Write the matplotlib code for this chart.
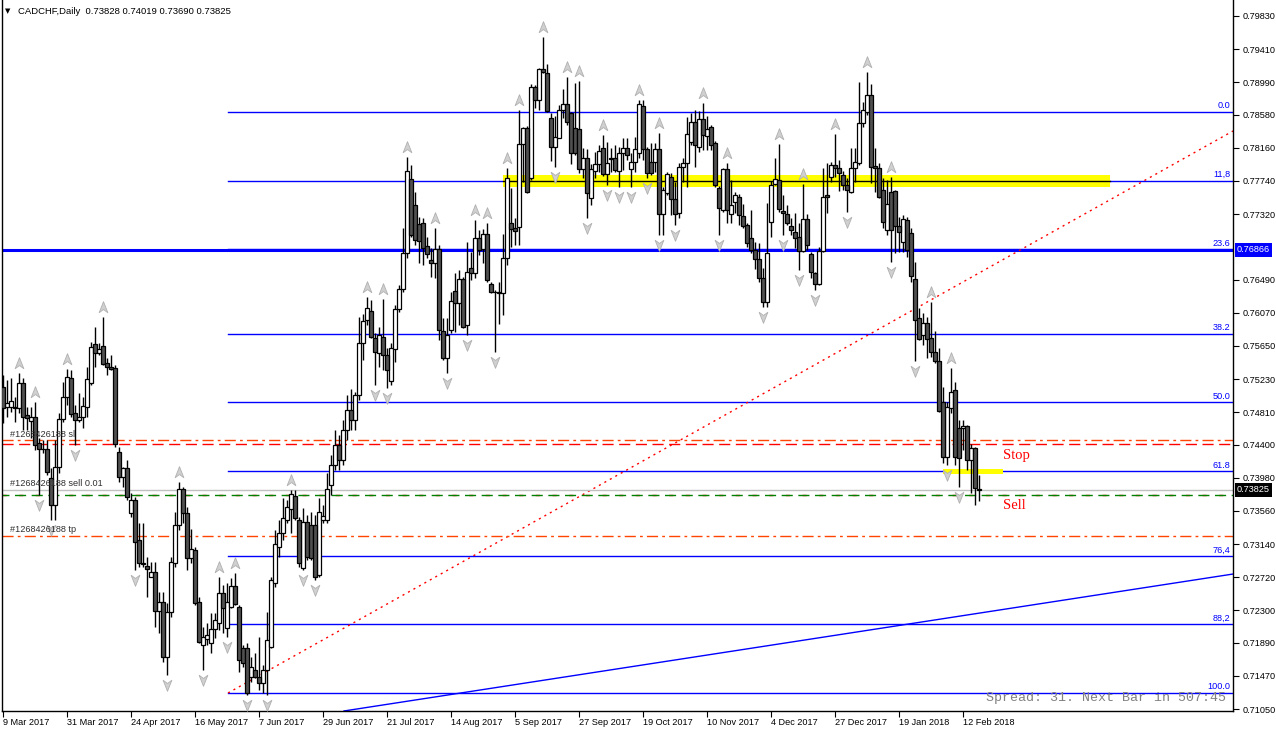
import matplotlib
matplotlib.use("Agg")
import matplotlib.pyplot as plt
from matplotlib.path import Path
from matplotlib.patches import Rectangle
from matplotlib import transforms
import numpy as np

plt.rcParams['font.family'] = ['Liberation Sans', 'DejaVu Sans']

header = "CADCHF,Daily  0.73828 0.74019 0.73690 0.73825"

# daily OHLC, 9 Mar 2017 .. 16 Feb 2018
opens = [
    .75134, .74872, .74872, .74881, .74859, .75176, .74775, .74703, .74745, .74416,
    .74345, .74340, .73973, .73635, .74120, .74720, .74999, .75240, .74796, .74712,
    .74745, .74881, .75176, .75674, .75556, .75649, .75438, .75379, .75366, .74310,
    .73994, .74099, .73529, .73698, .73191, .72896, .72862, .72727, .72782, .72296,
    .72410, .71705, .72283, .72904, .73381, .73834, .73538, .72959, .73065, .72410,
    .71862, .71933, .71883, .72059, .72136, .72516, .72072, .72347, .72609, .72339,
    .71819, .71819, .71460, .71544, .71460, .71375, .71544, .71840, .72642, .73098,
    .73276, .73445, .73580, .73749, .73445, .72832, .73424, .73381, .73381, .72748,
    .73445, .73445, .73888, .74141, .74395, .74205, .74585, .74838, .74711, .75028,
    .75683, .75979, .76097, .75755, .75556, .75759, .75535, .75206, .75611, .76118,
    .76371, .76823, .77765, .77436, .77191, .77203, .76920, .76739, .76697, .76878,
    .75839, .75501, .75852, .76350, .76190, .76498, .75915, .76633, .76570, .77013,
    .76878, .77064, .76431, .76338, .76329, .76317, .76760, .77203, .77148, .77161,
    .78204, .78407, .77773, .78931, .78766, .79154, .79112, .78534, .78175, .78289,
    .78639, .78711, .78597, .78407, .78394, .77892, .78027, .77520, .77871, .77951,
    .78154, .77824, .78027, .78027, .77871, .78099, .78162, .77892, .77985, .78090,
    .78694, .78145, .77976, .77976, .78141, .77317, .77583, .77795, .77512, .77330,
    .77921, .77963, .78230, .78483, .78175, .78525, .78314, .78428, .78217, .77647,
    .77372, .77887, .77317, .77469, .77541, .77296, .77182, .77022, .76865, .76751,
    .76515, .76211, .77224, .77697, .77752, .77360, .77317, .77174, .77098, .77034,
    .76853, .77258, .76815, .76570, .76431, .76853, .77562, .77795, .77942, .77900,
    .77816, .77689, .77604, .77900, .77963, .78470, .78618, .78829, .77930, .77900,
    .77626, .77119, .77604, .77613, .77174, .76971, .77246, .77077, .76498, .76000,
    .75789, .75936, .75746, .75577, .75459, .74935, .74247, .74868, .75092, .74615,
    .74606, .74640, .74205, .74353, .73828,
]
highs = [
    .75282, .75218, .75240, .75007, .75303, .75240, .74881, .74872, .74944, .74479,
    .74458, .74458, .74099, .74458, .74796, .75197, .75354, .75345, .74902, .75049,
    .75007, .75387, .75704, .75894, .75683, .76021, .75493, .75535, .75408, .74374,
    .74120, .74205, .73783, .73740, .73402, .73402, .72980, .72917, .72917, .72537,
    .72537, .72389, .72980, .73550, .73931, .73867, .73614, .73326, .73107, .72474,
    .72093, .72136, .72263, .72263, .72727, .72621, .72642, .72706, .72769, .72368,
    .71862, .71883, .71714, .71756, .71967, .71608, .72283, .72727, .73318, .73445,
    .73723, .73698, .73825, .73825, .73487, .73593, .73508, .73550, .73508, .73723,
    .73635, .74036, .74268, .74585, .74521, .74711, .75028, .75104, .75066, .76021,
    .76050, .76274, .76232, .75810, .75894, .76245, .75620, .75683, .76169, .76422,
    .77148, .78048, .77942, .77605, .77288, .77275, .77034, .76887, .77140, .76929,
    .76000, .76000, .76338, .76570, .76612, .76528, .76971, .76844, .77246, .77119,
    .77132, .77203, .76464, .76359, .76464, .77064, .77909, .77655, .77267, .78639,
    .78428, .78441, .78964, .78956, .79167, .79568, .79218, .78597, .78567, .78703,
    .78905, .79061, .78610, .78977, .79007, .78162, .78145, .77951, .78111, .78196,
    .78322, .78230, .78154, .78196, .78175, .78280, .78289, .78090, .78301, .78766,
    .78766, .78175, .78217, .78217, .78344, .77668, .77858, .77837, .77731, .77963,
    .78027, .78555, .78597, .78639, .78626, .78724, .78563, .78449, .78246, .77680,
    .77900, .77963, .77752, .77596, .77571, .77444, .77203, .77372, .76971, .76950,
    .76633, .77457, .77740, .78035, .78204, .77562, .77435, .77267, .77330, .77203,
    .77697, .77317, .76844, .76591, .76908, .77900, .77963, .77985, .78331, .78006,
    .77866, .77773, .78153, .78153, .78998, .78745, .79116, .78964, .78153, .77963,
    .77782, .77752, .77795, .77626, .77288, .77309, .77288, .77148, .76718, .76126,
    .76063, .76021, .76211, .75839, .75620, .75134, .74944, .75366, .75197, .74712,
    .74712, .74648, .74403, .74374, .74019,
]
lows = [
    .74669, .74754, .74817, .74691, .74796, .74585, .74585, .74479, .74332, .73761,
    .74289, .74015, .73445, .73445, .74036, .74691, .74902, .74754, .74395, .74691,
    .74606, .74754, .75155, .75387, .75535, .75408, .75282, .75345, .74374, .73931,
    .73867, .73698, .73487, .72811, .72853, .72853, .72474, .72720, .72093, .72009,
    .71650, .71481, .72220, .72853, .73318, .73402, .72811, .72896, .72368, .71883,
    .71544, .71862, .71756, .71946, .72051, .72009, .71967, .72326, .72368, .71523,
    .71587, .71228, .71397, .71440, .71291, .71249, .71228, .71819, .72600, .72980,
    .73191, .73402, .73276, .73445, .72853, .72811, .72938, .72938, .72685, .72727,
    .73402, .73402, .73761, .74078, .74078, .74141, .74458, .74585, .74585, .74965,
    .75472, .75915, .75746, .75155, .75387, .75345, .75113, .75155, .75451, .76084,
    .76338, .76760, .77034, .76929, .76697, .76675, .76760, .76528, .76507, .75725,
    .75472, .75303, .75810, .75831, .75915, .75873, .75789, .76485, .76507, .76802,
    .76697, .76464, .76317, .75578, .75924, .76042, .76675, .76908, .76929, .76929,
    .77731, .77583, .77752, .78660, .78639, .79112, .78618, .77993, .77921, .78280,
    .78534, .78449, .77951, .78069, .77837, .77782, .77275, .77436, .77782, .77858,
    .77807, .77689, .77858, .77858, .77668, .77879, .78006, .77668, .77858, .78027,
    .78006, .77773, .77816, .77858, .77055, .77055, .77562, .77309, .77182, .77267,
    .77731, .77668, .78196, .77921, .78111, .78132, .78132, .78132, .77668, .77055,
    .77351, .77203, .77203, .77330, .77182, .77140, .76908, .76823, .76625, .76464,
    .76148, .76148, .77034, .77689, .77351, .77055, .77182, .77055, .76887, .76612,
    .76844, .76865, .76507, .76359, .76422, .76844, .77330, .77731, .77795, .77613,
    .77626, .77351, .77583, .77731, .77942, .78428, .78576, .77710, .77604, .77520,
    .77140, .77055, .76718, .76823, .76844, .76844, .76781, .76464, .75459, .75725,
    .75662, .75493, .75514, .75430, .74809, .74163, .74142, .74796, .74142, .73867,
    .74332, .74078, .73783, .73635, .73690,
]
closes = [
    .74859, .74923, .74952, .74859, .75176, .74754, .74733, .74745, .74395, .74340,
    .74340, .74057, .73635, .74120, .74720, .74999, .75261, .74788, .74712, .74745,
    .74889, .75227, .75632, .75556, .75607, .75421, .75387, .75362, .74408, .73985,
    .74099, .73732, .73698, .73170, .72896, .72887, .72820, .72782, .72296, .72410,
    .71705, .72283, .72917, .73381, .73834, .73538, .72959, .73073, .72398, .71904,
    .71967, .71988, .72059, .72178, .72516, .72326, .72410, .72609, .72381, .71671,
    .71629, .71249, .71587, .71460, .71375, .71544, .71925, .72685, .73141, .73276,
    .73466, .73614, .73774, .73466, .72896, .73424, .72980, .72959, .72727, .73550,
    .73495, .73834, .74141, .74395, .74205, .74585, .74838, .74711, .75028, .75683,
    .75966, .76126, .75767, .75578, .75789, .75535, .75345, .75620, .76118, .76371,
    .76823, .77866, .77056, .76992, .76980, .76895, .76811, .76697, .76878, .75852,
    .75493, .75789, .76219, .76198, .76498, .75894, .76583, .76570, .77013, .76866,
    .77064, .76485, .76338, .76329, .76325, .76760, .77773, .77132, .77106, .78204,
    .78407, .77596, .78935, .78766, .79154, .79125, .78627, .78175, .78293, .78639,
    .78711, .78491, .78090, .78099, .77892, .78027, .77583, .77887, .77951, .78120,
    .77824, .77972, .78020, .77879, .78090, .78162, .78069, .77976, .78145, .78711,
    .78145, .77837, .77837, .78145, .77317, .77626, .77824, .77512, .77317, .77921,
    .77963, .78331, .78483, .78196, .78525, .78322, .78398, .78196, .77689, .77402,
    .77887, .77372, .77435, .77562, .77309, .77174, .76950, .76865, .76751, .76507,
    .76211, .76823, .77689, .77761, .77385, .77330, .77203, .77119, .77022, .76853,
    .77258, .76929, .76591, .76431, .76853, .77541, .77541, .77942, .77900, .77837,
    .77689, .77626, .77900, .77976, .78470, .78639, .78829, .77921, .77909, .77541,
    .77224, .77444, .77119, .77174, .77098, .77258, .76865, .76540, .75979, .75738,
    .75936, .75738, .75577, .75459, .74826, .74247, .74881, .75062, .74247, .74226,
    .74640, .74205, .74353, .73846, .73825,
]

date_labels = ["9 Mar 2017", "31 Mar 2017", "24 Apr 2017", "16 May 2017", "7 Jun 2017",
               "29 Jun 2017", "21 Jul 2017", "14 Aug 2017", "5 Sep 2017", "27 Sep 2017",
               "19 Oct 2017", "10 Nov 2017", "4 Dec 2017", "27 Dec 2017", "19 Jan 2018",
               "12 Feb 2018"]
date_step = 16

price_ticks = [0.79830, 0.79410, 0.78990, 0.78580, 0.78160, 0.77740, 0.77320,
               0.76490, 0.76070, 0.75650, 0.75230, 0.74810, 0.74400, 0.73980,
               0.73560, 0.73140, 0.72720, 0.72300, 0.71890, 0.71470, 0.71050]

# fibonacci retracement object
fib_pct = [0.0, 11.8, 23.6, 38.2, 50.0, 61.8, 76.4, 88.2, 100.0]
fib_text = ["0.0", "11,8", "23.6", "38.2", "50.0", "61.8", "76,4", "88,2", "100.0"]
fib_high = 0.78614
fib_low = 0.71253
fib_start = 56.25

hline_price = 0.76866
bid = 0.73825
order_open = 0.73761
sl_price = 0.74458
stop_price = 0.74407
tp_price = 0.73242
ticket = "#1268426188"

fib_ray_x = [56.25, 307.5]
fib_ray_y = [0.71253, 0.78373]
trend_x = [85.25, 307.5]
trend_y = [0.71025, 0.72760]

zone1 = (125.0, 276.75, 0.77663, 0.77816)   # x0, x1, y0, y1
zone2 = (235.0, 250.0, 0.74028, 0.74091)

W, H = 1276, 733
fig = plt.figure(figsize=(W / 100, H / 100), dpi=100)
ax = fig.add_axes([2 / W, 22 / H, 1231 / W, 711 / H])
xmin, xmax = -0.25, 307.5
ymin, ymax = 0.710247, 0.800327
ax.set_xlim(xmin, xmax)
ax.set_ylim(ymin, ymax)
px = (ymax - ymin) / 711.0  # price per pixel

n = len(closes)
xs = np.arange(n)
o = np.array(opens); c = np.array(closes)
h = np.array(highs); l = np.array(lows)

# levels
ax.axhline(hline_price, color="#0000FF", lw=2.2, zorder=2)
for pct, txt in zip(fib_pct, fib_text):
    lvl = fib_high - (fib_high - fib_low) * pct / 100
    ax.plot([fib_start, xmax], [lvl, lvl], color="#0000FF", lw=1, zorder=2)
    ax.text(xmax - 0.6, lvl + px * 1.5, txt, color="#0000FF", fontsize=6.6,
            ha="right", va="bottom", zorder=6)
ax.plot(fib_ray_x, fib_ray_y, color="#FF0000", lw=1, ls=(0, (1.5, 3)), zorder=2)
ax.plot(trend_x, trend_y, color="#0000FF", lw=1, zorder=2)

ax.axhline(sl_price, color="#FF4500", lw=1, ls=(0, (8, 3, 2, 3)), zorder=2)
ax.axhline(stop_price, color="#FF0000", lw=1, ls=(0, (8, 4)), zorder=2)
ax.axhline(tp_price, color="#FF4500", lw=1, ls=(0, (8, 3, 2, 3)), zorder=2)
ax.axhline(bid, color="#C0C0C0", lw=1, zorder=2)
ax.axhline(order_open, color="#FF0000", lw=1, ls=(0, (3, 9)), zorder=2)
ax.axhline(order_open, color="#008000", lw=1, ls=(3, (8, 4)), zorder=2)

# yellow zones
for x0, x1, y0, y1 in (zone1, zone2):
    ax.add_patch(Rectangle((x0, y0), x1 - x0, y1 - y0, facecolor="#FFFF00",
                           edgecolor="none", zorder=3))
lvl118 = fib_high - (fib_high - fib_low) * 0.118
ax.plot([zone1[0], zone1[1]], [lvl118, lvl118], color="black", lw=1, zorder=3.5)

# candles
ax.vlines(xs, l, h, color="black", lw=1, zorder=4)
bull = c >= o
body_lo = np.minimum(o, c)
body_h = np.maximum(np.abs(c - o), px * 0.6)
ax.bar(xs[bull], body_h[bull], bottom=body_lo[bull], width=0.8, color="white",
       edgecolor="black", linewidth=0.9, zorder=5)
ax.bar(xs[~bull], body_h[~bull], bottom=body_lo[~bull], width=0.8, color="#505050",
       edgecolor="black", linewidth=0.9, zorder=5)

# fractals
up_path = Path([(0, 1), (0.75, -0.9), (0, -0.35), (-0.75, -0.9), (0, 1)],
               [Path.MOVETO, Path.LINETO, Path.LINETO, Path.LINETO, Path.CLOSEPOLY])
dn_path = Path([(0, -1), (0.75, 0.9), (0, 0.35), (-0.75, 0.9), (0, -1)],
               [Path.MOVETO, Path.LINETO, Path.LINETO, Path.LINETO, Path.CLOSEPOLY])
fx_up, fy_up, fx_dn, fy_dn = [], [], [], []
for i in range(2, n - 2):
    if h[i] > max(h[i - 2], h[i - 1]) and h[i] >= max(h[i + 1], h[i + 2]):
        fx_up.append(i); fy_up.append(h[i] + px * 10)
    if l[i] < min(l[i - 2], l[i - 1]) and l[i] <= min(l[i + 1], l[i + 2]):
        fx_dn.append(i); fy_dn.append(l[i] - px * 10)
ax.scatter(fx_up, fy_up, marker=up_path, s=70, facecolor="#D0D0D0",
           edgecolor="#B0B0B0", linewidth=0.6, zorder=6)
ax.scatter(fx_dn, fy_dn, marker=dn_path, s=70, facecolor="#D0D0D0",
           edgecolor="#B0B0B0", linewidth=0.6, zorder=6)

# order labels
for price, txt in ((sl_price, ticket + " sl"), (bid, ticket + " sell 0.01"),
                   (tp_price, ticket + " tp")):
    ax.text(1.7, price + px * 1.5, txt, fontsize=6.6, color="#303030",
            ha="left", va="bottom", zorder=7)

ax.text(250, 0.74260, "Stop", color="#FF0000", fontsize=10.5,
        family="Liberation Serif", ha="left", va="center", zorder=7)
ax.text(250, 0.73625, "Sell", color="#FF0000", fontsize=10.5,
        family="Liberation Serif", ha="left", va="center", zorder=7)

ax.text(0.9945, 0.01, "Spread: 31. Next Bar in 507:45", transform=ax.transAxes,
        family="Liberation Mono", fontsize=9.6, color="#808080",
        ha="right", va="bottom", zorder=7)

fig.text(5 / W, 1 - 11 / H, "\u25BC", fontsize=5, family="DejaVu Sans",
         va="center", ha="left")
fig.text(18 / W, 1 - 11 / H, header, fontsize=6.8, va="center", ha="left")

# axes
ax.spines["top"].set_visible(False)
for s in ("left", "right", "bottom"):
    ax.spines[s].set_color("black")
    ax.spines[s].set_linewidth(1)

ax.yaxis.tick_right()
ax.set_yticks(price_ticks)
ax.set_yticklabels([f"{v:.5f}" for v in price_ticks])
ax.tick_params(axis="y", direction="out", length=4, pad=3, labelsize=6.6)

ticks = list(range(0, date_step * len(date_labels), date_step))
ax.set_xticks(ticks)
ax.set_xticklabels(date_labels)
ax.tick_params(axis="x", direction="out", length=4, pad=1, labelsize=6.6)
for lab in ax.get_xticklabels():
    lab.set_horizontalalignment("left")

tr = transforms.offset_copy(transforms.blended_transform_factory(ax.transAxes, ax.transData),
                            fig=fig, x=4, y=0, units="dots")
ax.text(1.0, hline_price, "0.76866", transform=tr, color="white", fontsize=6.6,
        ha="left", va="center", clip_on=False,
        bbox=dict(boxstyle="square,pad=0.25", fc="#0000FF", ec="none"))
ax.text(1.0, bid, "0.73825", transform=tr, color="white", fontsize=6.6,
        ha="left", va="center", clip_on=False,
        bbox=dict(boxstyle="square,pad=0.25", fc="black", ec="none"))

fig.savefig("out.png", dpi=100, facecolor="white")
